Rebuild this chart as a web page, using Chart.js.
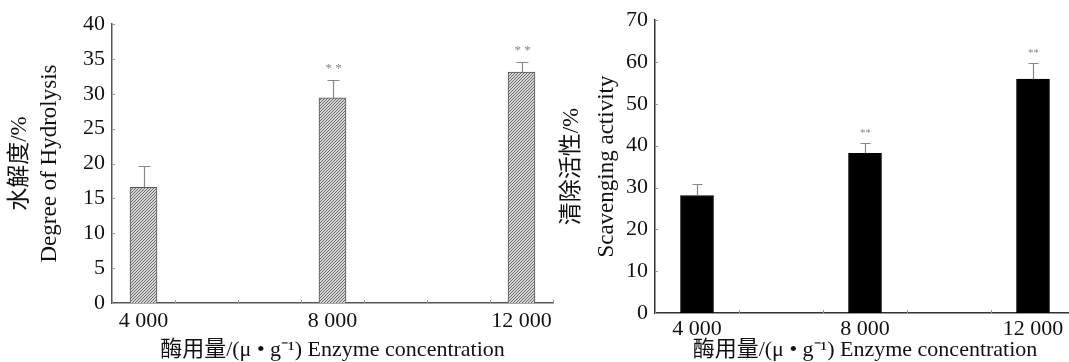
<!DOCTYPE html>
<html>
<head>
<meta charset="utf-8">
<script src="https://cdn.jsdelivr.net/npm/chart.js@4"></script>
<style>
html, body { margin: 0; padding: 0; background: #fff; width: 1069px; height: 362px; overflow: hidden; }
#wrap { position: relative; width: 1069px; height: 362px; overflow: hidden; }
canvas { position: absolute; top: 0; }
#dhChart { left: 0; }
#scChart { left: 545px; }
</style>
</head>
<body>
<div id="wrap">
    <canvas id="dhChart" width="560" height="362"></canvas>
    <canvas id="scChart" width="530" height="362"></canvas>
</div>
<script>
// データ
const categories = ['4 000', '8 000', '12 000'];
const hydrolysisValues = [16.6, 29.4, 33.1];
const hydrolysisErrors = [3.0, 2.5, 1.4];
const hydrolysisMarks = ['', '* *', '* *'];
const scavengingValues = [28.1, 38.2, 55.9];
const scavengingErrors = [2.8, 2.5, 3.8];
const scavengingMarks = ['', '**', '**'];
const xTitle = '酶用量/(μ • g⁻¹) Enzyme concentration';

Chart.defaults.font.family = "'Liberation Serif', 'Noto Sans CJK SC', serif";
Chart.defaults.color = '#111';

// 空きスロットを挟んで並べる
function spread(arr, gap, fill) {
    const out = [];
    arr.forEach((v, i) => {
        out.push(v);
        if (i < arr.length - 1) {
            for (let k = 0; k < gap; k++) out.push(fill);
        }
    });
    return out;
}

// 斜線パターン
function makeHatch() {
    const c = document.createElement('canvas');
    c.width = 3;
    c.height = 3;
    const g = c.getContext('2d');
    g.fillStyle = '#d4d4d4';
    g.fillRect(0, 0, 3, 3);
    g.fillStyle = '#6e6e6e';
    g.fillRect(0, 2, 1, 1);
    g.fillRect(1, 1, 1, 1);
    g.fillRect(2, 0, 1, 1);
    return g.createPattern(c, 'repeat');
}

// エラーバーと有意差マーク
const errorBarPlugin = {
    id: 'errorBars',
    afterDatasetsDraw(chart, args, opts) {
        const { ctx, scales: { y } } = chart;
        const ds = chart.data.datasets[0];
        const meta = chart.getDatasetMeta(0);
        ctx.save();
        ctx.strokeStyle = opts.color;
        ctx.fillStyle = opts.color;
        ctx.lineWidth = 1.2;
        meta.data.forEach((bar, i) => {
            const v = ds.data[i];
            if (v === null) return;
            const top = Math.round(y.getPixelForValue(v + ds.errors[i])) + 0.5;
            const x = Math.round(bar.x) + 0.5;
            ctx.beginPath();
            ctx.moveTo(x, bar.y);
            ctx.lineTo(x, top);
            ctx.moveTo(x - opts.cap / 2, top);
            ctx.lineTo(x + opts.cap / 2, top);
            ctx.stroke();
            if (ds.marks[i]) {
                ctx.font = opts.markFont;
                ctx.textAlign = 'center';
                ctx.textBaseline = 'middle';
                ctx.fillText(ds.marks[i], x, top - opts.markGap);
            }
        });
        ctx.restore();
    }
};

// 内向きの目盛り
const innerTickPlugin = {
    id: 'innerTicks',
    afterDraw(chart) {
        const { ctx, chartArea, scales: { x, y } } = chart;
        ctx.save();
        ctx.strokeStyle = '#999';
        ctx.lineWidth = 1;
        ctx.beginPath();
        y.ticks.forEach((t, i) => {
            const py = Math.round(y.getPixelForTick(i)) + 0.5;
            ctx.moveTo(chartArea.left, py);
            ctx.lineTo(chartArea.left + 3, py);
        });
        for (let i = 0; i <= x.ticks.length; i++) {
            const px = Math.round(x.getPixelForValue(i - 0.5)) + 0.5;
            ctx.moveTo(px, chartArea.bottom);
            ctx.lineTo(px, chartArea.bottom - 3);
        }
        ctx.stroke();
        ctx.restore();
    }
};

function initializeBarChart(canvasId, cfg) {
    const ctx = document.getElementById(canvasId);
    if (!ctx) return null;

    return new Chart(ctx, {
        type: 'bar',
        data: {
            labels: spread(categories, cfg.gap, ''),
            datasets: [{
                data: spread(cfg.values, cfg.gap, null),
                errors: spread(cfg.errors, cfg.gap, null),
                marks: spread(cfg.marks, cfg.gap, ''),
                backgroundColor: cfg.fill,
                borderColor: cfg.border,
                borderWidth: 1,
                barThickness: cfg.barWidth
            }]
        },
        options: {
            responsive: false,
            animation: false,
            layout: { padding: cfg.padding },
            plugins: {
                legend: { display: false },
                tooltip: { enabled: false },
                errorBars: {
                    color: '#888',
                    cap: cfg.cap,
                    markFont: cfg.markFont,
                    markGap: cfg.markGap
                }
            },
            scales: {
                x: {
                    offset: true,
                    grid: { display: false, drawTicks: false },
                    border: { color: cfg.axisColor, width: 1.5 },
                    ticks: {
                        autoSkip: false,
                        maxRotation: 0,
                        padding: cfg.xPad,
                        color: '#111',
                        font: { size: 22, lineHeight: 1.0 }
                    },
                    title: {
                        display: true,
                        text: xTitle,
                        color: '#111',
                        font: { size: 22, lineHeight: 1.0 },
                        padding: { top: 0, bottom: 1 }
                    },
                    afterFit: s => { s.height = cfg.xHeight; }
                },
                y: {
                    min: 0,
                    max: cfg.max,
                    grid: { display: false, drawTicks: false },
                    border: { color: cfg.axisColor, width: 1.5 },
                    ticks: {
                        stepSize: cfg.step,
                        padding: 7,
                        color: '#111',
                        font: { size: 22 }
                    },
                    title: {
                        display: true,
                        text: cfg.yTitle,
                        color: '#111',
                        font: { size: 23, lineHeight: cfg.titleLine + 'px' },
                        padding: { top: cfg.titlePad, bottom: 0 }
                    },
                    afterFit: s => { s.width = cfg.yWidth; }
                }
            }
        },
        plugins: [errorBarPlugin, innerTickPlugin]
    });
}

const hatch = makeHatch();

initializeBarChart('dhChart', {
    gap: 2,
    values: hydrolysisValues,
    errors: hydrolysisErrors,
    marks: hydrolysisMarks,
    fill: hatch,
    border: '#555',
    barWidth: 27,
    cap: 12,
    markFont: '13px "Liberation Serif"',
    markGap: 12,
    axisColor: '#555',
    padding: { left: 0, right: 7, top: 24, bottom: 0 },
    xPad: 7,
    xHeight: 59,
    max: 40,
    step: 5,
    yTitle: ['水解度/%', 'Degree of Hydrolysis'],
    titleLine: 30,
    titlePad: 5,
    yWidth: 112
});

initializeBarChart('scChart', {
    gap: 1,
    values: scavengingValues,
    errors: scavengingErrors,
    marks: scavengingMarks,
    fill: '#000',
    border: '#000',
    barWidth: 33,
    cap: 10,
    markFont: '11px "Liberation Serif"',
    markGap: 10,
    axisColor: '#333',
    padding: { left: 0, right: 0, top: 19.5, bottom: 0 },
    xPad: 5,
    xHeight: 49,
    max: 70,
    step: 10,
    yTitle: ['清除活性/%', 'Scavenging activity'],
    titleLine: 35,
    titlePad: 9,
    yWidth: 110
});
</script>
</body>
</html>
